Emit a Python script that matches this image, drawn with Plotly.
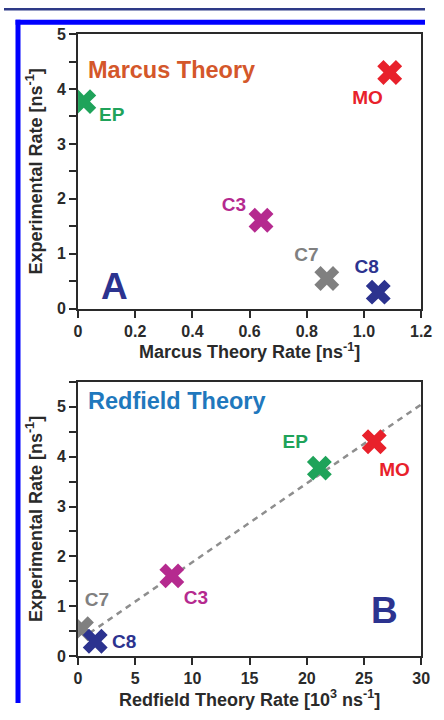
import numpy as np
import plotly.graph_objects as go

# Compounds and their rates
names = ["EP", "MO", "C3", "C7", "C8"]
colors = ["#1fa35a", "#e8212b", "#b52a8f", "#808080", "#2c338f"]
experimental = [3.77, 4.30, 1.61, 0.55, 0.30]
marcus_rate = [0.02, 1.09, 0.64, 0.87, 1.05]
redfield_rate = [21.1, 25.9, 8.2, 0.3, 1.5]

marcus_ticks = [0, 0.2, 0.4, 0.6, 0.8, 1.0, 1.2]
marcus_ticktext = ["0", "0.2", "0.4", "0.6", "0.8", "1.0", "1.2"]
redfield_ticks = [0, 5, 10, 15, 20, 25, 30]
rate_ticks = [0, 1, 2, 3, 4, 5]

# label offsets (pixels, y up) relative to each marker
marcus_label_shift = [(29, -15), (-23, -27), (-28, 14), (-21, 23), (-12, 25)]
redfield_label_shift = [(-25, 25), (21, -30), (25, -24), (16, 28), (30, -2)]

W, H = 436, 712
FONT = "Liberation Sans, Arial, sans-serif"
AX = "#2a2a2a"

# plot-area geometry in pixels
X_LEFT, X_RIGHT = 76.7, 432.0
A_TOP, A_BOTTOM = 26.7, 308.0
B_TOP, B_BOTTOM = 383.0, 664.0
MARCUS_X = [0, 1.2]
REDFIELD_X = [0, 30]
A_Y = [0, 5]
B_Y = [0, 5.5]


def px_x(p):
    return p / W


def px_y(p):
    return 1 - p / H


def label_positions(xs, ys, shifts, xr, yr, top, bottom):
    sx = (xr[1] - xr[0]) / (X_RIGHT - X_LEFT)
    sy = (yr[1] - yr[0]) / (bottom - top)
    lx = [x + dx * sx for x, (dx, _) in zip(xs, shifts)]
    ly = [y + dy * sy for y, (_, dy) in zip(ys, shifts)]
    return lx, ly


fig = go.Figure()

# Panel A: Marcus theory
fig.add_trace(go.Scatter(
    x=marcus_rate, y=experimental, mode="markers",
    marker=dict(symbol="x", size=22, color=colors, line=dict(width=0)),
    xaxis="x", yaxis="y", showlegend=False, hoverinfo="skip"))
lx, ly = label_positions(marcus_rate, experimental, marcus_label_shift,
                         MARCUS_X, A_Y, A_TOP, A_BOTTOM)
fig.add_trace(go.Scatter(
    x=lx, y=ly, mode="text", text=names, textposition="middle center",
    textfont=dict(family=FONT, size=19, color=colors, weight="bold"),
    xaxis="x", yaxis="y", showlegend=False, hoverinfo="skip", cliponaxis=False))

# Panel B: Redfield theory with linear fit
slope, intercept = np.polyfit(redfield_rate, experimental, 1)
fit_x = np.array([1.0, 30.0])
fig.add_trace(go.Scatter(
    x=fit_x, y=slope * fit_x + intercept, mode="lines",
    line=dict(color="#8e8e8e", width=2.5, dash="6px,5px"),
    xaxis="x2", yaxis="y2", showlegend=False, hoverinfo="skip"))
fig.add_trace(go.Scatter(
    x=redfield_rate, y=experimental, mode="markers",
    marker=dict(symbol="x", size=22, color=colors, line=dict(width=0)),
    xaxis="x2", yaxis="y2", showlegend=False, hoverinfo="skip"))
lx, ly = label_positions(redfield_rate, experimental, redfield_label_shift,
                         REDFIELD_X, B_Y, B_TOP, B_BOTTOM)
fig.add_trace(go.Scatter(
    x=lx, y=ly, mode="text", text=names, textposition="middle center",
    textfont=dict(family=FONT, size=19, color=colors, weight="bold"),
    xaxis="x2", yaxis="y2", showlegend=False, hoverinfo="skip", cliponaxis=False))

tickfont = dict(family=FONT, size=16, color=AX, weight="bold")
titlefont = dict(family=FONT, size=18, color=AX, weight="bold")
minor = dict(dtick=0.5, ticks="outside", ticklen=7, tickcolor=AX, tickwidth=2)
common = dict(showline=True, linecolor=AX, linewidth=2, mirror=True,
              ticks="outside", ticklen=7, tickwidth=2, tickcolor=AX,
              showgrid=False, zeroline=False, tickfont=tickfont,
              ticklabeloverflow="allow")

x_dom = [px_x(X_LEFT), px_x(X_RIGHT)]
fig.update_layout(
    width=W, height=H, margin=dict(l=0, r=0, t=0, b=0),
    paper_bgcolor="white", plot_bgcolor="white",
    xaxis=dict(domain=x_dom, range=MARCUS_X, tickvals=marcus_ticks, ticktext=marcus_ticktext,
               anchor="y", title=dict(text="Marcus Theory Rate [ns<sup>-1</sup>]", font=titlefont, standoff=4),
               **common),
    yaxis=dict(domain=[px_y(A_BOTTOM), px_y(A_TOP)], range=A_Y, tickvals=rate_ticks, minor=minor,
               anchor="x", title=dict(text="Experimental Rate [ns<sup>-1</sup>]", font=titlefont, standoff=10),
               **common),
    xaxis2=dict(domain=x_dom, range=REDFIELD_X, tickvals=redfield_ticks,
                anchor="y2", title=dict(text="Redfield Theory Rate [10<sup>3</sup> ns<sup>-1</sup>]", font=titlefont, standoff=4),
                **common),
    yaxis2=dict(domain=[px_y(B_BOTTOM), px_y(B_TOP)], range=B_Y, tickvals=rate_ticks, minor=minor,
                anchor="x2", title=dict(text="Experimental Rate [ns<sup>-1</sup>]", font=titlefont, standoff=10),
                **common),
)

# Panel titles and letters
fig.add_annotation(x=px_x(85), y=px_y(48), xref="paper", yref="paper", xanchor="left",
                   text="<b>Marcus Theory</b>", showarrow=False,
                   font=dict(family=FONT, size=23.5, color="#d4572a"))
fig.add_annotation(x=px_x(98.5), y=px_y(285), xref="paper", yref="paper",
                   text="<b>A</b>", showarrow=False,
                   font=dict(family=FONT, size=37, color="#2c338f"))
fig.add_annotation(x=px_x(85), y=px_y(403), xref="paper", yref="paper", xanchor="left",
                   text="<b>Redfield Theory</b>", showarrow=False,
                   font=dict(family=FONT, size=23.5, color="#1f78bd"))
fig.add_annotation(x=px_x(410), y=px_y(640), xref="paper", yref="paper",
                   text="<b>B</b>", showarrow=False,
                   font=dict(family=FONT, size=37, color="#2c338f"))

# Page frame: thin navy rule, blue border along left and top edges
fig.add_shape(type="line", xref="paper", yref="paper", x0=0, x1=1, y0=px_y(1.2), y1=px_y(1.2),
              line=dict(color="#2e3a87", width=2.5))
fig.add_shape(type="line", xref="paper", yref="paper", x0=px_x(14.5), x1=px_x(14.5),
              y0=0, y1=px_y(12), line=dict(color="#0000ff", width=5))
fig.add_shape(type="line", xref="paper", yref="paper", x0=px_x(12), x1=1,
              y0=px_y(14.5), y1=px_y(14.5), line=dict(color="#0000ff", width=5))

fig.write_html("out.html")
